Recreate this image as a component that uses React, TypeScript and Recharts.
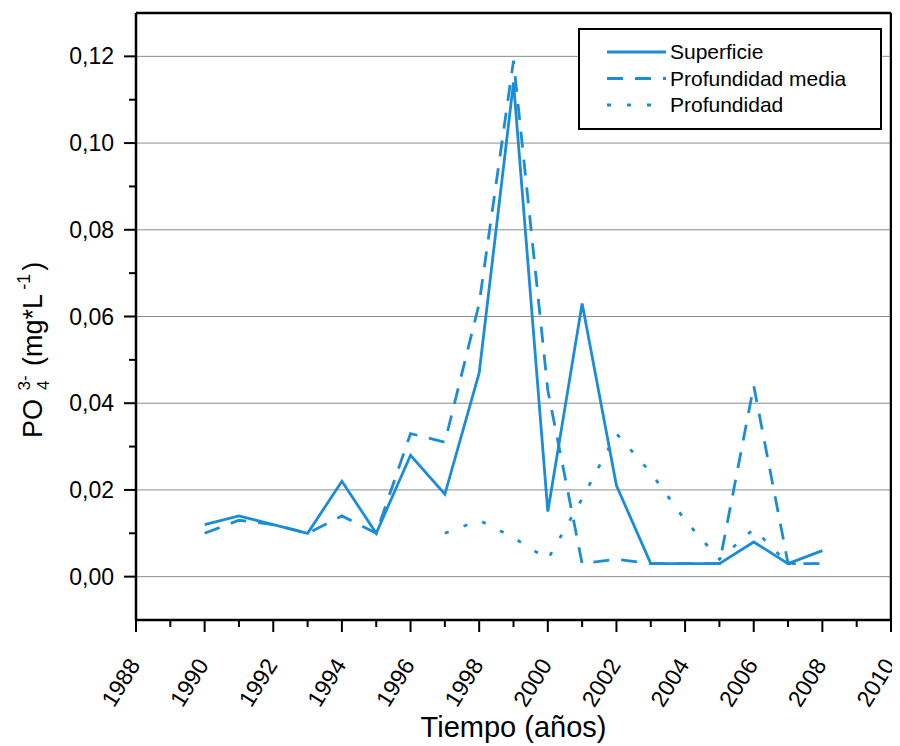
import { LineChart, Line, XAxis, YAxis, CartesianGrid, ReferenceLine, Legend } from 'recharts'

// annual PO4 values, mg/L
const years = [1990, 1991, 1992, 1993, 1994, 1995, 1996, 1997, 1998, 1999, 2000, 2001, 2002, 2003, 2004, 2005, 2006, 2007, 2008]
const superficie = [0.012, 0.014, 0.012, 0.01, 0.022, 0.01, 0.028, 0.019, 0.047, 0.114, 0.015, 0.063, 0.021, 0.003, 0.003, 0.003, 0.008, 0.003, 0.006]
const profMedia = [0.01, 0.013, 0.012, 0.01, 0.014, 0.01, 0.033, 0.031, 0.063, 0.119, 0.043, 0.003, 0.004, 0.003, 0.003, 0.003, 0.044, 0.003, 0.003]
const profundidad = [null, null, null, null, null, null, null, 0.01, 0.013, 0.009, 0.004, 0.018, 0.033, 0.024, 0.013, 0.004, 0.011, 0.003, 0.003]

const xTicks = [1988, 1989, 1990, 1991, 1992, 1993, 1994, 1995, 1996, 1997, 1998, 1999, 2000, 2001, 2002, 2003, 2004, 2005, 2006, 2007, 2008, 2009, 2010]
const yTicks = [-0.01, 0, 0.01, 0.02, 0.03, 0.04, 0.05, 0.06, 0.07, 0.08, 0.09, 0.1, 0.11, 0.12, 0.13]
const gridValues = [0, 0.02, 0.04, 0.06, 0.08, 0.1, 0.12]

const series = [
  { key: 'superficie', name: 'Superficie', dash: undefined },
  { key: 'profMedia', name: 'Profundidad media', dash: '16 12' },
  { key: 'profundidad', name: 'Profundidad', dash: '4 16' },
]

const data = years.map((year, i) => ({
  year,
  superficie: superficie[i],
  profMedia: profMedia[i],
  profundidad: profundidad[i],
}))

const BLUE = '#1a8cd8'
const FONT = '"Liberation Sans", Arial, sans-serif'

function XTick({ x, y, payload }: any) {
  const v = payload.value
  const major = v % 2 === 0
  const ax = x + 5
  const ay = y + 45
  return (
    <g>
      <line x1={x} x2={x} y1={y} y2={y + (major ? 12 : 7)} stroke="#000" strokeWidth={2} />
      {major && (
        <text x={ax} y={ay} transform={`rotate(-58 ${ax} ${ay})`} textAnchor="end" fontSize={23} fontFamily={FONT} fill="#000">
          {v}
        </text>
      )}
    </g>
  )
}

function YTick({ x, y, payload }: any) {
  const v = payload.value
  if (v < -0.005 || v > 0.125) return <g />
  const major = Math.round(v * 100) % 2 === 0
  return (
    <g>
      <line x1={x - (major ? 12 : 7)} x2={x} y1={y} y2={y} stroke="#000" strokeWidth={2} />
      {major && (
        <text x={x - 22} y={y + 8} textAnchor="end" fontSize={23} fontFamily={FONT} fill="#000">
          {v.toFixed(2).replace('.', ',')}
        </text>
      )}
    </g>
  )
}

function LegendBox() {
  return (
    <div style={{ width: 304, height: 102, border: '2px solid #000', background: '#fff', boxSizing: 'border-box' }}>
      <svg width={300} height={98} style={{ display: 'block' }}>
        {series.map((s, i) => (
          <g key={s.key}>
            <line x1={27} x2={86} y1={22 + i * 26.5} y2={22 + i * 26.5} stroke={BLUE} strokeWidth={3} strokeDasharray={s.dash} />
            <text x={90} y={29 + i * 26.5} fontSize={21} fontFamily={FONT} fill="#000">{s.name}</text>
          </g>
        ))}
      </svg>
    </div>
  )
}

export default function App() {
  return (
    <LineChart width={892} height={738} data={data} margin={{ top: 5, right: 9, bottom: 0, left: 0 }}>
      <CartesianGrid vertical={false} horizontalValues={gridValues} stroke="#8c8c8c" strokeWidth={1} />
      <XAxis
        type="number"
        dataKey="year"
        domain={[1988, 2010]}
        ticks={xTicks}
        interval={0}
        height={126}
        tickSize={0}
        tickMargin={0}
        tickLine={false}
        axisLine={{ stroke: '#000', strokeWidth: 2.5 }}
        tick={<XTick />}
        label={{
          content: ({ viewBox }: any) => (
            <text x={viewBox.x + viewBox.width / 2} y={729} textAnchor="middle" fontSize={29} fontFamily={FONT} fill="#000">
              Tiempo (años)
            </text>
          ),
        }}
      />
      <YAxis
        type="number"
        domain={[-0.01, 0.13]}
        ticks={yTicks}
        interval={0}
        width={128}
        tickSize={0}
        tickMargin={0}
        tickLine={false}
        axisLine={{ stroke: '#000', strokeWidth: 2.5 }}
        tick={<YTick />}
        label={{
          content: () => (
            <text x={34} y={430} transform="rotate(-90 34 430)" fontSize={27} fontFamily={FONT} fill="#000">
              PO
              <tspan dx={9} dy={7} fontSize={17}>4</tspan>
              <tspan dx={-10} dy={-19} fontSize={17}>3-</tspan>
              <tspan dx={2} dy={12}> (mg*L</tspan>
              <tspan dx={4} dy={-12} fontSize={18}>-1</tspan>
              <tspan dx={3} dy={12}>)</tspan>
            </text>
          ),
        }}
      />
      <ReferenceLine y={0.13} stroke="#000" strokeWidth={2.5} />
      <ReferenceLine x={2010} stroke="#000" strokeWidth={2.5} />
      {series.map((s) => (
        <Line
          key={s.key}
          type="linear"
          dataKey={s.key}
          name={s.name}
          stroke={BLUE}
          strokeWidth={2.8}
          strokeDasharray={s.dash}
          dot={false}
          activeDot={false}
          isAnimationActive={false}
        />
      ))}
      <Legend
        layout="horizontal"
        verticalAlign="middle"
        align="center"
        wrapperStyle={{ position: 'absolute', left: 570, top: 20, width: 304, height: 102 }}
        content={() => <LegendBox />}
      />
    </LineChart>
  )
}
